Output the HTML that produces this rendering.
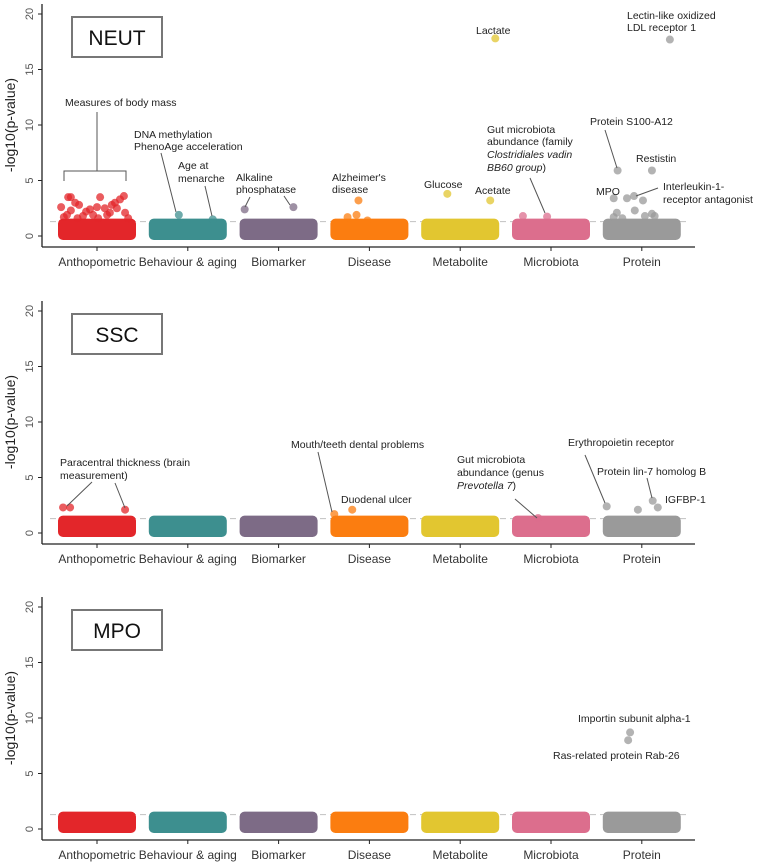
<!DOCTYPE html>
<html><head><meta charset="utf-8"><style>
html,body{margin:0;padding:0;background:#fff}
svg{display:block;font-family:"Liberation Sans",sans-serif}
</style></head><body>
<svg id="chart" width="760" height="865" viewBox="0 0 760 865"></svg>
<script>
const categories = ["Anthopometric","Behaviour & aging","Biomarker","Disease","Metabolite","Microbiota","Protein"];
const colors = ["#e3262a","#3d8f8f","#7d6b86","#fb7d10","#e2c630","#dc6e8d","#9a9a9a"];
const yTicks = [0,5,10,15,20];
const threshold = 1.3;
const bandTop = [1.2,1.2,1.2,1.2,1.2,1.2,1.2];
const panels = ["NEUT","SSC","MPO"];
const panelZeroY = [236,533,829];
// outliers: [categoryIndex, jitter(-1..1), value]
const neutPoints = [
 [0,-0.92,2.6],[0,-0.74,3.5],[0,-0.67,3.5],[0,-0.46,2.8],[0,-0.56,3.0],[0,-0.67,2.3],[0,-0.77,1.9],
 [0,-0.18,2.4],[0,0.08,3.5],[0,0,2.6],[0,0.38,2.8],[0,0.46,3.0],[0,0.59,3.3],[0,0.69,3.6],[0,0.72,2.1],
 [0,0.26,1.9],[0,-0.1,1.9],[0,-0.36,1.8],[0,0.2,2.5],[0,0.51,2.5],[0,-0.28,2.2],[0,0.33,2.1],[0,-0.85,1.7],
 [0,0.8,1.6],[0,-0.5,1.6],[0,0.03,1.6],
 [1,-0.23,1.9],[1,0.64,1.5],
 [2,-0.87,2.4],[2,0.38,2.6],
 [3,-0.28,3.2],[3,-0.33,1.9],[3,-0.56,1.7],[3,-0.05,1.4],
 [4,-0.33,3.8],[4,0.77,3.2],[4,0.9,17.8],
 [5,-0.72,1.8],[5,-0.1,1.75],
 [6,0.72,17.7],[6,-0.62,5.9],[6,0.26,5.9],[6,-0.72,3.4],[6,-0.38,3.4],[6,-0.2,3.6],[6,0.03,3.2],
 [6,-0.64,2.1],[6,-0.72,1.7],[6,-0.5,1.6],[6,-0.18,2.3],[6,0.08,1.8],[6,0.26,2.0],[6,0.33,1.8]
];
const sscPoints = [
 [0,-0.87,2.3],[0,-0.69,2.3],[0,0.72,2.1],
 [3,-0.9,1.7],[3,-0.44,2.1],
 [5,-0.33,1.35],
 [6,-0.9,2.4],[6,-0.1,2.1],[6,0.28,2.9],[6,0.41,2.3]
];
const mpoPoints = [[6,-0.3,8.7],[6,-0.35,8.0]];
const panelPoints = [neutPoints,sscPoints,mpoPoints];

const NS="http://www.w3.org/2000/svg";
const svg=document.getElementById('chart');
const unit=11.1, x0=42, x1=695, tick0=97, tickStep=90.8, halfW=39;
function xCat(i){return tick0+i*tickStep;}
function yVal(p,v){return panelZeroY[p]-v*unit;}
function mk(tag,attrs,parent){const e=document.createElementNS(NS,tag);for(const k in attrs)e.setAttribute(k,attrs[k]);(parent||svg).appendChild(e);return e;}

panels.forEach((name,p)=>{
  const g=mk('g',{});
  
  
  const y0=panelZeroY[p];
  const ya=mk('line',{x1:x0,x2:x0,y1:y0-232,y2:y0+11,stroke:'#222','stroke-width':1.3},g);
  
  
  const xa=mk('line',{x1:x0,x2:x1,y1:y0+11,y2:y0+11,stroke:'#222','stroke-width':1.3},g);
  
  
  yTicks.forEach(t=>{
    const y=yVal(p,t);
    mk('line',{x1:x0-4,x2:x0,y1:y,y2:y,stroke:'#222'},g);
    const tx=mk('text',{x:0,y:0,transform:`translate(33,${y}) rotate(-90)`,'text-anchor':'middle','font-size':11,fill:'#555'},g);
    tx.textContent=t;
    
    
  });
  const yt=mk('text',{transform:`translate(15,${y0-111}) rotate(-90)`,'text-anchor':'middle','font-size':14,fill:'#222'},g);
  yt.textContent='-log10(p-value)';
  
  
  const th=mk('line',{x1:x0+8,x2:x1-5,y1:yVal(p,threshold),y2:yVal(p,threshold),stroke:'#c8c8c8','stroke-dasharray':'6,4','stroke-width':1.2},g);
  
  
  categories.forEach((c,i)=>{
    const x=xCat(i);
    mk('line',{x1:x,x2:x,y1:y0+11,y2:y0+15,stroke:'#222'},g);
    const band=mk('rect',{x:x-halfW,y:yVal(p,bandTop[i])-4,width:halfW*2,height:bandTop[i]*unit+8,rx:5,fill:colors[i]},g);
    
    
    const tl=mk('text',{x:x,y:y0+30,'text-anchor':'middle','font-size':12,fill:'#333'},g);
    tl.textContent=c;
    
    
  });
  panelPoints[p].forEach(pt=>{
    const c=mk('circle',{cx:xCat(pt[0])+pt[1]*halfW,cy:yVal(p,pt[2]),r:4,fill:colors[pt[0]],'fill-opacity':0.75},g);
    
    
  });
  const by=y0-219;
  const box=mk('rect',{x:72,y:by,width:90,height:40,fill:'#fff',stroke:'#777','stroke-width':2},g);
  
  
  const bt=mk('text',{x:117,y:by+28,'text-anchor':'middle','font-size':21,fill:'#111'},g);
  bt.textContent=name;
  
  
});
</script>
<svg width="760" height="865" style="position:absolute;left:0;top:0;font-family:'Liberation Sans',sans-serif" font-size="10.5" fill="#222">
 <g stroke="#555" stroke-width="1" fill="none">
  <path d="M97 112V171M64 181V171H126V181"/>
  <path d="M161 153L176 212M205 186L212 216M250 197L245 207M284 196L290 205M530 178L545 213M605 130L617 168M658 188L636 196"/>
  <path d="M92 482L67 506M115 483L125 508M318 452L332 512M515 499L537 518M585 455L605 503M647 478L652 498"/>
 </g>
 <text x="65" y="106">Measures of body mass</text>
 <text x="134" y="138">DNA methylation</text><text x="134" y="150">PhenoAge acceleration</text>
 <text x="178" y="169">Age at</text><text x="178" y="182">menarche</text>
 <text x="236" y="181">Alkaline</text><text x="236" y="193">phosphatase</text>
 <text x="332" y="181">Alzheimer's</text><text x="332" y="193">disease</text>
 <text x="476" y="34">Lactate</text>
 <text x="424" y="188">Glucose</text>
 <text x="475" y="194">Acetate</text>
 <text x="487" y="133">Gut microbiota</text><text x="487" y="145">abundance (family</text>
 <text x="487" y="158" font-style="italic">Clostridiales vadin</text><text x="487" y="171"><tspan font-style="italic">BB60 group</tspan>)</text>
 <text x="627" y="19">Lectin-like oxidized</text><text x="627" y="31">LDL receptor 1</text>
 <text x="590" y="125">Protein S100-A12</text>
 <text x="636" y="162">Restistin</text>
 <text x="596" y="195">MPO</text>
 <text x="663" y="190">Interleukin-1-</text><text x="663" y="203">receptor antagonist</text>
 <text x="60" y="466">Paracentral thickness (brain</text><text x="60" y="479">measurement)</text>
 <text x="291" y="448">Mouth/teeth dental problems</text>
 <text x="341" y="503">Duodenal ulcer</text>
 <text x="457" y="463">Gut microbiota</text><text x="457" y="476">abundance (genus</text>
 <text x="457" y="489"><tspan font-style="italic">Prevotella 7</tspan>)</text>
 <text x="568" y="446">Erythropoietin receptor</text>
 <text x="597" y="475">Protein lin-7 homolog B</text>
 <text x="665" y="503">IGFBP-1</text>
 <text x="578" y="722">Importin subunit alpha-1</text>
 <text x="553" y="759">Ras-related protein Rab-26</text>
</svg>
</body></html>
